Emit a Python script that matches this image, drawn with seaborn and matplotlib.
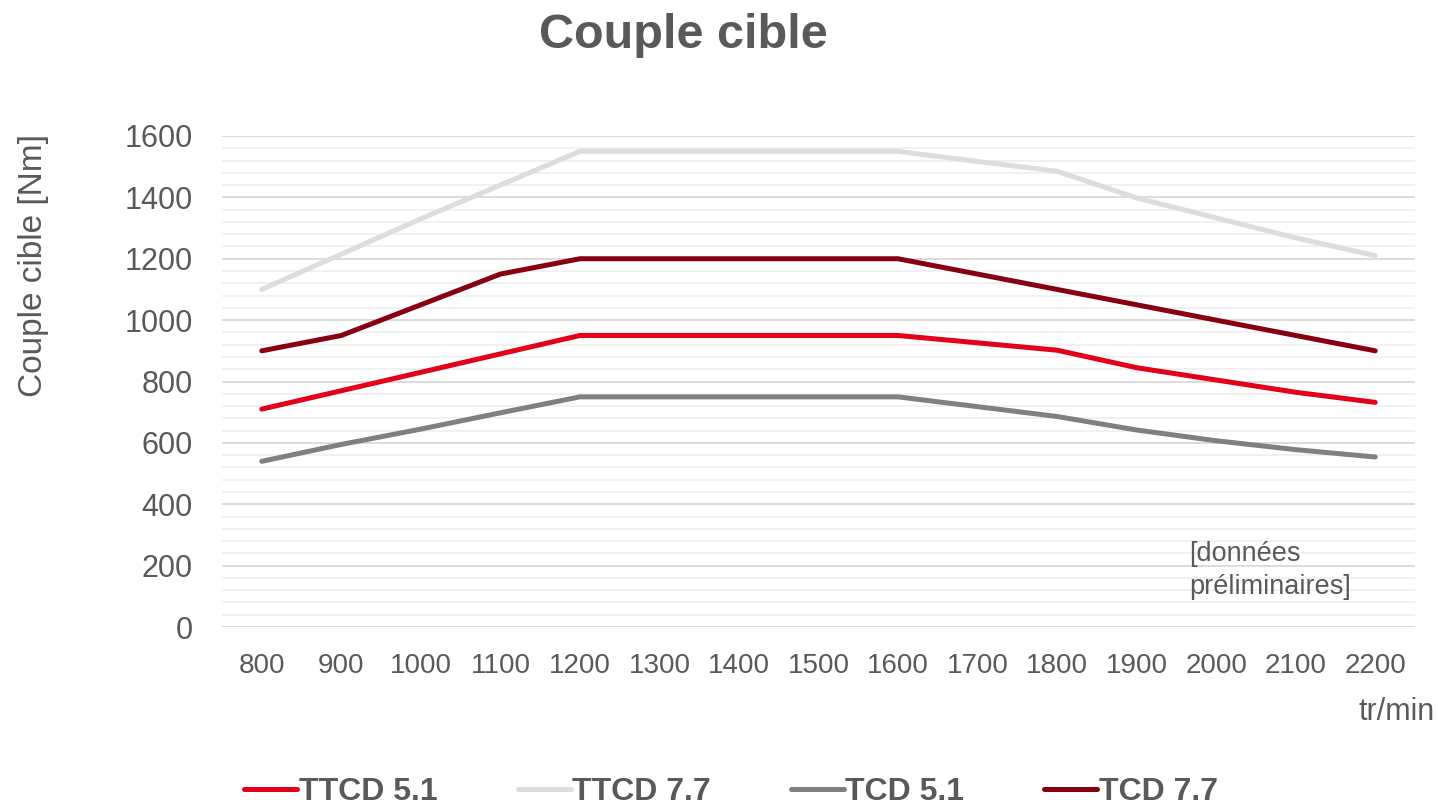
import pandas as pd
import matplotlib.pyplot as plt
import seaborn as sns
from matplotlib.ticker import MultipleLocator

# regime moteur (tr/min)
regimes = ['800', '900', '1000', '1100', '1200', '1300', '1400', '1500',
           '1600', '1700', '1800', '1900', '2000', '2100', '2200']

# couple cible [Nm] par moteur
ttcd51 = [710, 770, 830, 890, 950, 950, 950, 950, 950, 926, 902, 845, 805, 765, 732]
ttcd77 = [1100, 1215, 1330, 1440, 1550, 1550, 1550, 1550, 1550, 1517, 1485, 1398, 1333, 1268, 1210]
tcd51 = [540, 595, 645, 698, 750, 750, 750, 750, 750, 718, 686, 642, 607, 578, 554]
tcd77 = [900, 950, 1050, 1150, 1200, 1200, 1200, 1200, 1200, 1150, 1100, 1050, 1000, 950, 900]

moteurs = ['TTCD 5.1', 'TTCD 7.7', 'TCD 5.1', 'TCD 7.7']
couleurs = ['#E2001A', '#DDDDDD', '#808080', '#870012']

df = pd.DataFrame({
    'regime': regimes * 4,
    'couple': ttcd51 + ttcd77 + tcd51 + tcd77,
    'moteur': [m for m in moteurs for _ in regimes],
})

sns.set_style('white')
plt.rcParams['font.family'] = ['Liberation Sans', 'DejaVu Sans']
gris = '#595959'

fig = plt.figure(figsize=(14.38, 8.07), dpi=100)
ax = fig.add_axes([0.1544, 0.223, 0.8296, 0.6085])

sns.lineplot(data=df, x='regime', y='couple', hue='moteur', hue_order=moteurs,
             palette=couleurs, linewidth=3.6, solid_capstyle='round', ax=ax)

ax.set_ylim(0, 1600)
ax.set_xlim(-0.5, len(regimes) - 0.5)
ax.yaxis.set_major_locator(MultipleLocator(200))
ax.yaxis.set_minor_locator(MultipleLocator(40))
ax.grid(axis='y', which='major', color='#D9D9D9', linewidth=1.3)
ax.grid(axis='y', which='minor', color='#F0F0F0', linewidth=1.3)
ax.grid(axis='x', visible=False)
ax.set_axisbelow(True)
for s in ax.spines.values():
    s.set_visible(False)
ax.tick_params(axis='both', which='both', length=0, labelcolor=gris)
ax.tick_params(axis='x', labelsize=20, pad=18.5)
ax.tick_params(axis='y', labelsize=22, pad=21)

ax.set_xlabel('')
ax.set_ylabel('Couple cible [Nm]', fontsize=24, color=gris)
ax.yaxis.set_label_coords(-0.145, 0.737)
fig.text(1435 / 1438, 1 - 712 / 807, 'tr/min', ha='right', va='center',
         fontsize=22, color=gris)
ax.text(0.811, 0.116, '[données\npréliminaires]', transform=ax.transAxes,
        ha='left', va='center', fontsize=19.5, color=gris, linespacing=1.35)

fig.suptitle('Couple cible', x=0.475, y=0.984, fontsize=35, fontweight='bold', color=gris)

leg = ax.legend(loc='center', bbox_to_anchor=(0.4267, -0.336), ncol=4, frameon=False,
                fontsize=23, handlelength=1.66, handletextpad=0.05, columnspacing=2.5)
for t in leg.get_texts():
    t.set_color(gris)
    t.set_fontweight('bold')

fig.savefig('out.png', dpi=100)
